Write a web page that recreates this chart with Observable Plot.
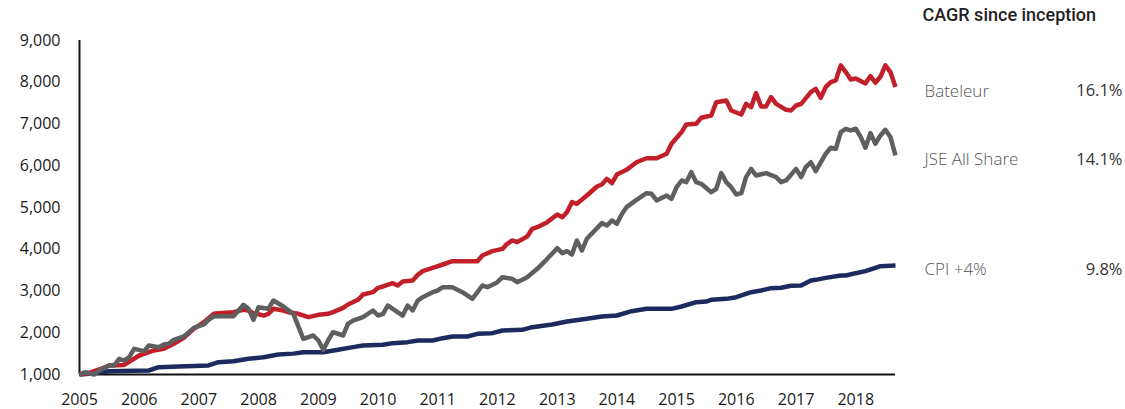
<!DOCTYPE html>
<html>
<head>
<meta charset="utf-8">
<script src="https://cdn.jsdelivr.net/npm/d3@7"></script>
<script src="https://cdn.jsdelivr.net/npm/@observablehq/plot@0.6"></script>
<style>
  html, body { margin: 0; padding: 0; background: #fff; }
</style>
</head>
<body>
<div id="chart"></div>
<script>
// Values: [months since Jan 2005, index level]
const bateleur = [[0,1000],[2,1040],[4,1120],[6,1216],[9,1230],[12,1455],[15,1575],[17,1615],[19,1735],[21,1879],[23,2094],[25,2253],[27,2453],[28,2469],[31,2493],[33,2549],[34,2533],[35,2469],[37,2413],[38,2453],[39,2573],[41,2533],[42,2493],[44,2453],[46,2373],[48,2429],[50,2453],[51,2493],[53,2597],[54,2677],[56,2789],[57,2916],[59,2972],[60,3076],[61,3108],[63,3187],[64,3132],[65,3227],[67,3251],[68,3387],[69,3475],[71,3555],[73,3635],[75,3714],[80,3714],[81,3850],[83,3954],[85,4010],[86,4130],[87,4210],[88,4170],[90,4305],[91,4490],[92,4529],[94,4649],[96,4832],[97,4768],[98,4888],[99,5128],[100,5088],[102,5287],[104,5503],[105,5551],[106,5687],[107,5583],[108,5790],[110,5902],[112,6084],[114,6180],[116,6180],[118,6287],[119,6527],[121,6806],[122,6988],[124,7004],[125,7150],[127,7204],[128,7523],[130,7563],[131,7323],[133,7227],[134,7483],[135,7403],[136,7740],[137,7419],[138,7419],[139,7643],[140,7483],[142,7339],[143,7323],[144,7443],[145,7483],[147,7764],[148,7844],[149,7628],[150,7884],[151,8004],[152,8044],[153,8403],[154,8243],[155,8067],[156,8092],[158,7972],[159,8148],[160,7988],[161,8132],[162,8403],[163,8243],[164,7884]];

const jseAllShare = [[0,1000],[1,1055],[3,1000],[4,1096],[6,1216],[7,1216],[8,1376],[9,1335],[10,1415],[11,1615],[13,1559],[14,1695],[16,1655],[17,1719],[18,1735],[19,1831],[21,1910],[22,2014],[23,2118],[25,2198],[26,2310],[27,2389],[28,2397],[31,2397],[33,2669],[34,2573],[35,2310],[36,2613],[38,2573],[39,2772],[41,2629],[43,2453],[45,1855],[47,1934],[48,1814],[49,1591],[50,1814],[51,2014],[53,1934],[54,2214],[55,2293],[57,2373],[59,2533],[60,2413],[61,2453],[62,2653],[63,2573],[65,2413],[66,2653],[67,2533],[68,2772],[69,2852],[71,2972],[72,3012],[73,3092],[75,3092],[77,2972],[79,2812],[81,3132],[82,3092],[84,3211],[85,3331],[87,3291],[88,3211],[90,3331],[92,3531],[94,3771],[96,4026],[97,3906],[98,3954],[99,3874],[100,4210],[101,3970],[102,4250],[105,4625],[106,4569],[107,4689],[108,4609],[109,4848],[110,5008],[112,5184],[114,5343],[115,5327],[116,5168],[118,5287],[119,5207],[120,5487],[121,5647],[122,5607],[123,5846],[124,5607],[125,5567],[127,5367],[128,5447],[129,5822],[130,5607],[131,5487],[132,5311],[133,5343],[134,5727],[135,5926],[136,5766],[138,5822],[140,5727],[141,5607],[142,5647],[144,5926],[145,5727],[146,5966],[147,6084],[148,5870],[150,6287],[151,6431],[152,6407],[153,6806],[154,6886],[155,6846],[156,6886],[157,6687],[158,6431],[159,6782],[160,6527],[161,6726],[162,6862],[163,6687],[164,6247]];

const cpiPlus4 = [[0,1000],[2,1017],[6,1080],[14,1096],[16,1175],[20,1192],[26,1216],[28,1295],[31,1319],[34,1376],[37,1415],[40,1479],[43,1500],[45,1535],[49,1535],[52,1591],[55,1655],[57,1695],[61,1711],[63,1751],[66,1775],[68,1814],[71,1814],[73,1870],[75,1910],[78,1910],[80,1974],[83,1990],[85,2054],[89,2070],[91,2134],[95,2198],[98,2270],[102,2333],[105,2389],[108,2413],[111,2517],[114,2573],[119,2573],[121,2629],[124,2732],[126,2748],[127,2788],[130,2812],[132,2852],[135,2972],[137,3012],[139,3068],[141,3076],[143,3124],[145,3132],[147,3251],[148,3267],[150,3315],[153,3371],[154,3371],[156,3427],[158,3475],[160,3555],[161,3595],[164,3611]];

const seriesNames = ["Bateleur", "JSE All Share", "CPI +4%"];
const cagrValues = ["16.1%", "14.1%", "9.8%"];
const seriesColors = ["#c1202b", "#5e5f5f", "#1e2a5e"];
const yearTicks = d3.range(2005, 2019);
const yTicks = d3.range(1000, 9001, 1000);
const headerText = "CAGR since inception";

const toDate = m => new Date(2005, m, 1);
const rows = (arr, name) => arr.map(([m, v]) => ({date: toDate(m), value: v, name}));
const allSeries = [bateleur, jseAllShare, cpiPlus4];
const endDate = toDate(164);
const startDate = toDate(0);

const labels = allSeries.map((s, i) => ({
  date: toDate(s[s.length - 1][0]),
  value: s[s.length - 1][1],
  name: seriesNames[i],
  cagr: cagrValues[i]
}));

const lineMarks = [2, 0, 1].map(i =>
  Plot.lineY(rows(allSeries[i], seriesNames[i]), {
    x: "date", y: "value", stroke: seriesColors[i], strokeWidth: 4.5,
    strokeLinejoin: "round", strokeLinecap: "butt"
  })
);

const chart = Plot.plot({
  width: 1125,
  height: 409,
  marginLeft: 79,
  marginRight: 230,
  marginTop: 40,
  marginBottom: 35,
  style: {fontFamily: "'Open Sans', sans-serif", fontSize: "16px", color: "#1a1a1a", background: "#fff", overflow: "visible"},
  x: {type: "time", domain: [startDate, endDate], label: null},
  y: {domain: [1000, 9000], label: null},
  marks: [
    Plot.axisX(yearTicks.map(y => new Date(y, 0, 1)), {
      tickFormat: d3.timeFormat("%Y"), tickSize: 0, tickPadding: 19, fontSize: 16, fill: "#1a1a1a", label: null
    }),
    Plot.axisY(yTicks, {
      tickFormat: d3.format(","), tickSize: 0, tickPadding: 19, fontSize: 16, fill: "#1a1a1a", label: null
    }),
    Plot.ruleY([1000], {stroke: "#111", strokeWidth: 2}),
    Plot.ruleX([startDate], {stroke: "#111", strokeWidth: 2}),
    ...lineMarks,
    Plot.text(labels, {
      x: "date", y: "value", text: "name", dx: 29, dy: 4, textAnchor: "start",
      fontSize: 17, fontWeight: 300, fill: "#555"
    }),
    Plot.text(labels, {
      x: "date", y: "value", text: "cagr", dx: 227, dy: 4, textAnchor: "end",
      fontSize: 16.5, letterSpacing: "-0.4px", fill: "#333"
    }),
    Plot.text([headerText], {
      x: () => endDate, y: () => 9000, text: d => d, dx: 27, dy: -25, textAnchor: "start",
      fontFamily: "Roboto, sans-serif", fontSize: 18, fontWeight: 500, fill: "#222"
    })
  ]
});

document.getElementById("chart").appendChild(chart);
</script>
</body>
</html>
